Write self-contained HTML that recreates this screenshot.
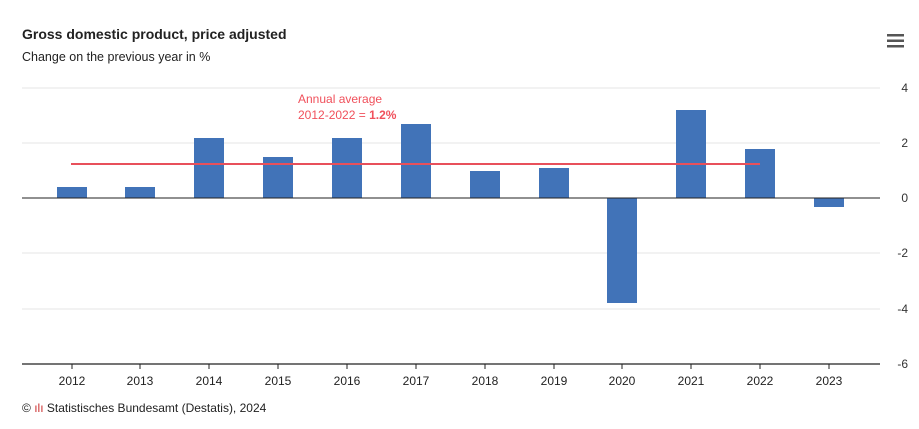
<!DOCTYPE html>
<html><head><meta charset="utf-8"><style>
body{margin:0;background:#fff;width:919px;height:424px;overflow:hidden;font-family:"Liberation Sans",sans-serif}
</style></head><body>
<svg width="919" height="424" xmlns="http://www.w3.org/2000/svg" font-family="Liberation Sans, sans-serif">
<text x="22" y="39" font-size="14" font-weight="bold" fill="#222">Gross domestic product, price adjusted</text>
<text x="22" y="61" font-size="12.5" fill="#222">Change on the previous year in %</text>
<g fill="#555"><rect x="887" y="34" width="17" height="2.5"/><rect x="887" y="39.5" width="17" height="2.5"/><rect x="887" y="45" width="17" height="2.5"/></g>
<g stroke="#eeeeee" stroke-width="1.5">
<line x1="22" x2="880" y1="88" y2="88"/><line x1="22" x2="880" y1="143" y2="143"/>
<line x1="22" x2="880" y1="253" y2="253"/><line x1="22" x2="880" y1="309" y2="309"/>
</g>
<g font-size="12" fill="#333" text-anchor="end">
<text x="908" y="92">4</text><text x="908" y="147">2</text><text x="908" y="202">0</text>
<text x="908" y="257">-2</text><text x="908" y="313">-4</text><text x="908" y="368">-6</text>
</g>
<g fill="#4173b8">
<rect x="57" y="187" width="30" height="11"/>
<rect x="125" y="187" width="30" height="11"/>
<rect x="194" y="138" width="30" height="60"/>
<rect x="263" y="157" width="30" height="41"/>
<rect x="332" y="138" width="30" height="60"/>
<rect x="401" y="124" width="30" height="74"/>
<rect x="470" y="171" width="30" height="27"/>
<rect x="539" y="168" width="30" height="30"/>
<rect x="607" y="198" width="30" height="105"/>
<rect x="676" y="110" width="30" height="88"/>
<rect x="745" y="149" width="30" height="49"/>
<rect x="814" y="198" width="30" height="9"/>
</g>
<line x1="22" x2="880" y1="198" y2="198" stroke="#222" stroke-width="1"/>
<line x1="71" x2="760" y1="164" y2="164" stroke="#e8505b" stroke-width="2"/>
<text x="298" y="103" font-size="12" fill="#f0505b">Annual average</text>
<text x="298" y="119" font-size="12" fill="#f0505b">2012-2022 = <tspan font-weight="bold">1.2%</tspan></text>
<line x1="22" x2="880" y1="364" y2="364" stroke="#222" stroke-width="1.2"/>
<g stroke="#222" stroke-width="1">
<line x1="72" x2="72" y1="364" y2="369"/><line x1="140" x2="140" y1="364" y2="369"/>
<line x1="209" x2="209" y1="364" y2="369"/><line x1="278" x2="278" y1="364" y2="369"/>
<line x1="347" x2="347" y1="364" y2="369"/><line x1="416" x2="416" y1="364" y2="369"/>
<line x1="485" x2="485" y1="364" y2="369"/><line x1="554" x2="554" y1="364" y2="369"/>
<line x1="622" x2="622" y1="364" y2="369"/><line x1="691" x2="691" y1="364" y2="369"/>
<line x1="760" x2="760" y1="364" y2="369"/><line x1="829" x2="829" y1="364" y2="369"/>
</g>
<g font-size="12" fill="#222" text-anchor="middle">
<text x="72" y="385">2012</text><text x="140" y="385">2013</text><text x="209" y="385">2014</text>
<text x="278" y="385">2015</text><text x="347" y="385">2016</text><text x="416" y="385">2017</text>
<text x="485" y="385">2018</text><text x="554" y="385">2019</text><text x="622" y="385">2020</text>
<text x="691" y="385">2021</text><text x="760" y="385">2022</text><text x="829" y="385">2023</text>
</g>
<text x="22" y="412" font-size="12" fill="#222">© <tspan fill="#c33">ılı</tspan> Statistisches Bundesamt (Destatis), 2024</text>
</svg>
</body></html>
